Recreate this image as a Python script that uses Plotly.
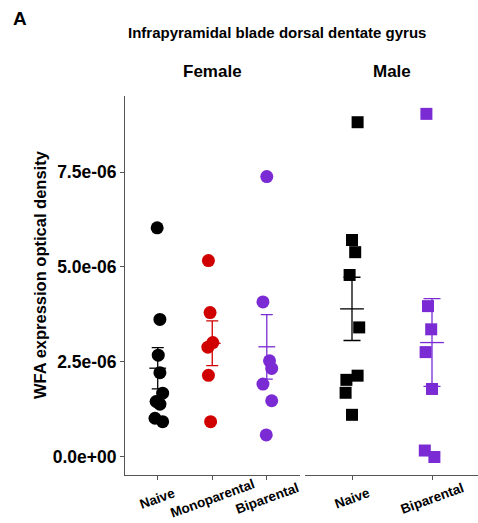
import numpy as np
import plotly.graph_objects as go

# ---- data (values in units of 1e-6) ----
female_categories = ["Naive", "Monoparental", "Biparental"]
male_categories = ["Naive", "Biparental"]

female_naive = [6.03, 3.62, 2.68, 2.22, 1.68, 1.46, 1.39, 1.02, 0.93]
female_mono = [5.17, 3.80, 3.01, 2.89, 2.15, 0.93]
female_bip = [7.38, 4.08, 2.53, 2.33, 1.92, 1.48, 0.58]
male_naive = [8.81, 5.71, 5.39, 4.79, 3.41, 2.14, 2.03, 1.69, 1.11]
male_bip = [9.03, 3.97, 3.36, 2.76, 1.79, 0.17, 0.0]

# horizontal jitter (category units)
jit_f_naive = [-0.01, 0.04, 0.01, 0.04, 0.09, -0.03, 0.04, -0.05, 0.09]
jit_f_mono = [-0.07, -0.04, 0.01, -0.08, -0.07, -0.03]
jit_f_bip = [0.0, -0.07, 0.05, 0.09, -0.07, 0.09, -0.01]
jit_m_naive = [0.07, 0.0, 0.04, -0.03, 0.09, 0.07, -0.07, -0.08, 0.0]
jit_m_bip = [-0.07, -0.05, -0.01, -0.08, 0.0, -0.09, 0.03]

ytick_vals = [0, 2.5e-6, 5e-6, 7.5e-6]
ytick_text = ["0.0e+00", "2.5e-06", "5.0e-06", "7.5e-06"]

BLACK = "#000000"
RED = "#D10000"
PURPLE = "#7B2BD3"
AX = "#555555"
FONT = "Liberation Sans, Arial, sans-serif"

W, H = 478, 523
L, R, T, B = 125, 0, 96, 48


def px2x(px):
    return (px - L) / (W - L - R)


def py2y(py):
    return (H - B - py) / (H - T - B)


groups = [
    ("x", 1, female_naive, jit_f_naive, BLACK, "circle", 13, 6),
    ("x", 2, female_mono, jit_f_mono, RED, "circle", 13, 6),
    ("x", 3, female_bip, jit_f_bip, PURPLE, "circle", 13, 6),
    ("x2", 1, male_naive, jit_m_naive, BLACK, "square", 12, 8.5),
    ("x2", 2, male_bip, jit_m_bip, PURPLE, "square", 12, 8.5),
]

fig = go.Figure()
for xa, pos, vals, jit, col, sym, size, cap in groups:
    v = np.array(vals) * 1e-6
    fig.add_trace(go.Scatter(
        x=[pos + j for j in jit], y=v, xaxis=xa, yaxis="y", mode="markers",
        marker=dict(color=col, symbol=sym, size=size, line=dict(width=0)),
        cliponaxis=False, showlegend=False, hoverinfo="y"))
for xa, pos, vals, jit, col, sym, size, cap in groups:
    v = np.array(vals) * 1e-6
    mean = v.mean()
    se = v.std(ddof=1) / np.sqrt(len(v))
    fig.add_trace(go.Scatter(
        x=[pos], y=[mean], xaxis=xa, yaxis="y", mode="markers",
        marker=dict(symbol="line-ew", size=2 * cap, color=col,
                    line=dict(color=col, width=1.3)),
        error_y=dict(type="data", array=[se], visible=True, color=col,
                     thickness=1.3, width=cap),
        cliponaxis=False, showlegend=False, hoverinfo="y"))

axis_common = dict(showgrid=False, zeroline=False, showline=True,
                   linecolor=AX, linewidth=1, ticks="outside", ticklen=4,
                   tickcolor=AX, tickwidth=1, showticklabels=False)

fig.update_layout(
    width=W, height=H,
    margin=dict(l=L, r=R, t=T, b=B, pad=0),
    paper_bgcolor="white", plot_bgcolor="white",
    font=dict(family=FONT, color="black"),
    xaxis=dict(domain=[0, px2x(299.5)], range=[0.4, 3.6],
               tickvals=[1, 2, 3], anchor="y", **axis_common),
    xaxis2=dict(domain=[px2x(305), 1], range=[0.4125, 2.575],
                tickvals=[1, 2], anchor="y", **axis_common),
    yaxis=dict(domain=[0, 1], range=[-0.474e-6, 9.5e-6], anchor="x",
               showgrid=False, zeroline=False, showline=True, linecolor=AX,
               linewidth=1, ticks="outside", ticklen=4, tickcolor=AX,
               tickvals=ytick_vals, ticktext=ytick_text,
               tickfont=dict(size=17.5, family=FONT, weight="bold", color="black")),
)

ann = []
# x tick labels (rotated, centred on ticks)
for i, c in enumerate(female_categories):
    ann.append(dict(x=i + 1, xref="x", y=py2y(498), yref="paper", text=c,
                    textangle=-20, showarrow=False, xanchor="center",
                    yanchor="middle",
                    font=dict(size=13.5, family=FONT, weight="bold")))
for i, c in enumerate(male_categories):
    ann.append(dict(x=i + 1, xref="x2", y=py2y(498), yref="paper", text=c,
                    textangle=-20, showarrow=False, xanchor="center",
                    yanchor="middle",
                    font=dict(size=13.5, family=FONT, weight="bold")))
# titles
ann.append(dict(x=px2x(20), y=py2y(18), xref="paper", yref="paper", text="A",
                showarrow=False, xanchor="center", yanchor="middle",
                font=dict(size=19, family=FONT, weight="bold")))
ann.append(dict(x=px2x(277), y=py2y(32), xref="paper", yref="paper",
                text="Infrapyramidal blade dorsal dentate gyrus",
                showarrow=False, xanchor="center", yanchor="middle",
                font=dict(size=15, family=FONT, weight="bold")))
ann.append(dict(x=px2x(212.5), y=py2y(71), xref="paper", yref="paper",
                text="Female", showarrow=False, xanchor="center",
                yanchor="middle", font=dict(size=17, family=FONT, weight="bold")))
ann.append(dict(x=px2x(392), y=py2y(71), xref="paper", yref="paper",
                text="Male", showarrow=False, xanchor="center",
                yanchor="middle", font=dict(size=17, family=FONT, weight="bold")))
ann.append(dict(x=px2x(40), y=py2y(275), xref="paper", yref="paper",
                text="WFA expression optical density", textangle=-90,
                showarrow=False, xanchor="center", yanchor="middle",
                font=dict(size=16.5, family=FONT, weight="bold")))
fig.update_layout(annotations=ann)

fig.write_html("out.html")
